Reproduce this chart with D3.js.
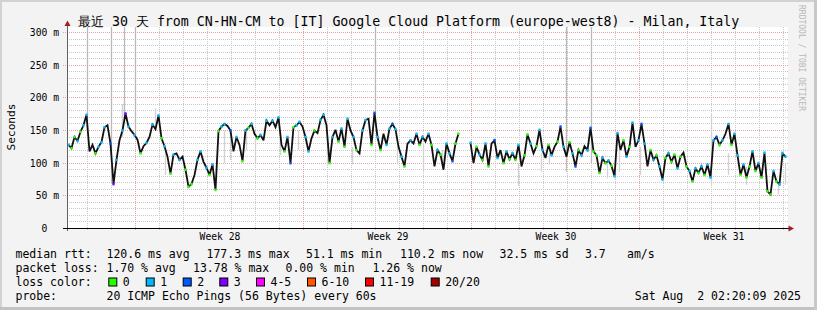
<!DOCTYPE html>
<html><head><meta charset="utf-8">
<script src="https://cdn.jsdelivr.net/npm/d3@7"></script>
<style>
html,body{margin:0;padding:0;background:#f3f3f3;}
svg{display:block;}
text{font-family:"DejaVu Sans Mono",monospace;fill:#000;white-space:pre;}
</style></head><body>
<svg id="c" width="817" height="310"></svg>
<script>
const title = "最近 30 天 from CN-HN-CM to [IT] Google Cloud Platform (europe-west8) - Milan, Italy";
const yTicks = [0, 50, 100, 150, 200, 250, 300];
const yLabels = ["0  ", "50 m", "100 m", "150 m", "200 m", "250 m", "300 m"];
const startTime = new Date(Date.UTC(2025, 6, 3, 3, 30));
const endTime = new Date(Date.UTC(2025, 7, 2, 3, 30));
const stepHours = 3;
// median rtt (ms), one value per 3 hours; null = no data
const medianMs = [
128,123,140,134,148,158,174,118,128,115,125,132,155,158,130,68,105,135,150,176,
156,149,143,136,115,126,131,140,159,152,173,138,126,110,84,113,115,105,110,90,
64,68,82,105,118,102,93,82,98,59,149,156,160,157,150,118,140,128,103,150,
154,160,145,138,143,135,165,158,165,155,170,128,118,140,100,155,158,163,156,140,
118,138,150,146,166,174,158,100,140,151,133,153,125,168,150,140,120,115,150,166,
168,128,177,140,120,145,128,153,160,152,125,110,95,130,135,130,145,128,140,133,
145,128,95,120,113,90,130,115,103,130,145,null,null,null,131,100,125,113,105,130,
95,130,135,108,120,100,118,106,115,105,128,95,112,144,130,115,126,151,120,108,
128,112,125,133,156,125,110,132,115,95,120,112,126,120,154,118,112,85,108,100,
104,96,80,146,120,135,110,125,162,125,135,160,130,95,120,105,112,95,75,108,
115,102,113,92,110,116,95,88,72,92,85,95,82,98,78,135,140,128,135,145,
160,128,145,112,82,98,78,95,118,88,100,78,116,57,52,88,72,68,115,110
];
// loss class per sample (-1 = plain median line)
const lossCode = [
1,0,0,1,0,1,1,-1,-1,0,1,1,1,-1,2,3,1,-1,1,3,
1,-1,1,-1,0,-1,1,-1,1,-1,1,0,1,-1,0,1,-1,1,-1,0,
0,0,-1,1,1,-1,1,0,1,0,0,1,1,-1,2,-1,1,-1,0,1,
0,1,-1,0,1,-1,1,-1,1,-1,1,-1,0,1,2,0,1,1,-1,1,
1,-1,0,-1,1,1,-1,0,1,-1,0,1,0,1,-1,1,0,-1,1,1,
-1,0,2,1,0,-1,1,1,2,1,-1,1,0,-1,1,-1,1,0,1,-1,
1,0,-1,1,0,-1,1,1,2,0,0,-1,-1,-1,1,-1,0,1,0,1,
0,-1,2,1,-1,0,1,0,1,0,1,-1,0,0,1,-1,0,1,1,-1,
0,1,-1,0,2,1,-1,0,1,2,0,1,-1,1,2,0,0,0,1,0,
1,0,1,1,-1,0,1,0,1,-1,1,2,1,-1,0,1,0,1,1,0,
1,0,0,1,0,-1,0,1,0,1,0,1,0,1,1,1,2,0,1,-1,
1,0,1,1,0,1,0,0,1,0,1,0,1,0,0,1,0,1,1,1
];
// smoke (spread of individual pings): hour offset, low ms, high ms
const smokeHour = [20.5,44.5,57.5,68.5,308.5,499.5,524,
  55,88,98,157,163,179,188,213,231,261,285,330,356,375,451,474,482,540,548,552,573,644,661,680,711,718];
const smokeLo = [150,70,170,140,175,87,100,
  140,150,82,100,105,120,100,112,120,98,98,98,88,95,65,87,98,77,75,87,82,67,82,67,52,67];
const smokeHi = [310,310,310,310,310,310,310,
  190,184,120,150,150,150,140,140,150,130,125,125,130,120,100,115,115,100,100,120,125,175,115,95,70,100];

const lossLabels = ["0", "1", "2", "3", "4-5", "6-10", "11-19", "20/20"];
const lossColors = ["#26ff00", "#00b8ff", "#0059ff", "#7e00ff", "#ff00ff", "#ff5500", "#ff0000", "#a10000"];

const legendRtt = [["median rtt:", 15.5], ["120.6 ms avg", 106.5], ["177.3 ms max", 206.5], ["51.1 ms min", 306], ["110.2 ms now", 400], ["32.5 ms sd", 499.5], ["3.7", 585], ["am/s", 627]];
const legendLoss = [["packet loss:", 15.5], ["1.70 % avg", 106.5], ["13.78 % max", 193], ["0.00 % min", 285.5], ["1.26 % now", 372.5]];
const probeText = "20 ICMP Echo Pings (56 Bytes) every 60s";
const dateText = "Sat Aug  2 02:20:09 2025";

const svg = d3.select("#c");
const W = 817, H = 310;
const X0 = 67, X1 = 787, YBOT = 228.5, YTOP = 27;

// frame
svg.append("rect").attr("width", W).attr("height", H).attr("fill", "#f3f3f3");
svg.append("rect").attr("x", 0).attr("y", 0).attr("width", W).attr("height", 2).attr("fill", "#d2d2d2");
svg.append("rect").attr("x", 0).attr("y", 0).attr("width", 2).attr("height", H).attr("fill", "#d2d2d2");
svg.append("rect").attr("x", 0).attr("y", H - 3).attr("width", W).attr("height", 3).attr("fill", "#c2c2c2");
svg.append("rect").attr("x", W - 3).attr("y", 0).attr("width", 3).attr("height", H).attr("fill", "#c8c8c8");

const x = d3.scaleUtc().domain([startTime, endTime]).range([X0, X1]);
const y = d3.scaleLinear().domain([0, 300]).range([YBOT, 32.5]);
const crisp = v => Math.floor(v) + 0.5;

// plot background
svg.append("rect").attr("x", X0).attr("y", YTOP).attr("width", 721).attr("height", YBOT - YTOP).attr("fill", "#ffffff");

const grid = svg.append("g").attr("shape-rendering", "crispEdges");
// minor horizontal
d3.range(10, 301, 10).filter(v => v % 50 !== 0).forEach(v => {
  grid.append("line").attr("x1", X0).attr("x2", 788).attr("y1", crisp(y(v))).attr("y2", crisp(y(v)))
    .attr("stroke", "#c9c9c9").attr("stroke-dasharray", "1,1");
});
// vertical daily / weekly
const days = d3.utcDay.range(d3.utcDay.ceil(startTime), endTime);
days.forEach(d => {
  const major = d.getUTCDay() === 0;
  grid.append("line").attr("x1", crisp(x(d))).attr("x2", crisp(x(d))).attr("y1", YTOP).attr("y2", 231)
    .attr("stroke", major ? "#eaa0a0" : "#c9c9c9").attr("stroke-dasharray", "1,1");
});
// major horizontal
yTicks.filter(v => v > 0).forEach(v => {
  grid.append("line").attr("x1", 63).attr("x2", 788).attr("y1", crisp(y(v))).attr("y2", crisp(y(v)))
    .attr("stroke", "#eaa0a0").attr("stroke-dasharray", "1,1");
});

// clip for data
svg.append("clipPath").attr("id", "pc").append("rect").attr("x", X0).attr("y", YTOP).attr("width", 721).attr("height", YBOT - YTOP);
const data = medianMs.map((v, i) => ({t: d3.utcHour.offset(startTime, i * stepHours), v, l: lossCode[i]}));
const plot = svg.append("g").attr("clip-path", "url(#pc)");

// smoke
smokeHour.forEach((h, i) => {
  const t = new Date(startTime.getTime() + h * 3600e3);
  plot.append("line").attr("x1", crisp(x(t))).attr("x2", crisp(x(t)))
    .attr("y1", y(smokeHi[i])).attr("y2", y(smokeLo[i]))
    .attr("stroke", i < 7 ? "#b9b9b9" : "#d2d2d2").attr("stroke-width", 1.3);
});

// median line
const line = d3.line().defined(d => d.v != null).x(d => x(d.t) + 1.5).y(d => y(d.v));
plot.append("path").datum(data).attr("d", line).attr("fill", "none").attr("stroke", "#111")
  .attr("stroke-width", 1.8).attr("stroke-linejoin", "miter").attr("stroke-miterlimit", 3);
// loss-coloured marks
plot.selectAll("rect.loss").data(data.filter(d => d.v != null && d.l >= 0)).join("rect")
  .attr("x", d => x(d.t) + 0.4).attr("y", d => y(d.v) - 1.3).attr("width", 2.2).attr("height", 2.6)
  .attr("fill", d => lossColors[d.l]);

// axes
const yAxis = d3.axisLeft(y).tickValues(yTicks).tickFormat((d, i) => yLabels[i]).tickSize(0).tickPadding(8);
const gy = svg.append("g").attr("transform", `translate(${X0},0)`).call(yAxis);
gy.select(".domain").remove();
gy.selectAll("text").attr("font-family", "DejaVu Sans Mono").attr("font-size", 9.7).attr("fill", "#000").attr("xml:space", "preserve");

const weekMid = d3.utcSunday.range(startTime, endTime).map(d => d3.utcHour.offset(d, 84)).filter(d => d < endTime);
const xAxis = d3.axisBottom(x).tickValues(weekMid).tickFormat(d3.utcFormat("Week %V")).tickSize(0).tickPadding(4.6);
const gx = svg.append("g").attr("transform", `translate(0,${YBOT})`).call(xAxis);
gx.select(".domain").remove();
gx.selectAll("text").attr("font-family", "DejaVu Sans Mono").attr("font-size", 9.7).attr("fill", "#000");

// axis lines + arrows
svg.append("line").attr("x1", 67.5).attr("x2", 67.5).attr("y1", 231).attr("y2", 25).attr("stroke", "#606060").attr("shape-rendering", "crispEdges");
svg.append("line").attr("x1", 63).attr("x2", 790).attr("y1", 228.5).attr("y2", 228.5).attr("stroke", "#000").attr("shape-rendering", "crispEdges");
svg.append("path").attr("d", "M64.5,26 L70.5,26 L67.5,20.5 Z").attr("fill", "#a02020");
svg.append("path").attr("d", "M788.5,225.5 L788.5,231.5 L794,228.5 Z").attr("fill", "#a02020");

// titles
svg.append("text").attr("x", 78).attr("y", 26.3).attr("font-size", 13.25)
  .attr("font-family", "'DejaVu Sans Mono','Noto Sans CJK SC',monospace").text(title);
svg.append("text").attr("transform", "translate(15.3,127) rotate(-90)").attr("text-anchor", "middle")
  .attr("font-size", 11.2).text("Seconds");
svg.append("text").attr("transform", "translate(799,5) rotate(90)").attr("font-size", 8)
  .style("fill", "#b8b8b8").text("RRDTOOL / TOBI OETIKER");

// legend
const lg = svg.append("g").attr("font-size", 11.5);
legendRtt.forEach(([t, px]) => lg.append("text").attr("x", px).attr("y", 258).text(t));
legendLoss.forEach(([t, px]) => lg.append("text").attr("x", px).attr("y", 272).text(t));
lg.append("text").attr("x", 15.5).attr("y", 286).text("loss color:");
const boxX = [108.3, 145.7, 182.7, 219.3, 256, 307, 365, 430.7];
lossLabels.forEach((lab, i) => {
  lg.append("rect").attr("x", boxX[i] + 0.5).attr("y", 278).attr("width", 8).attr("height", 8)
    .attr("fill", lossColors[i]).attr("stroke", "#000").attr("stroke-width", 1);
  lg.append("text").attr("x", boxX[i] + 14.5).attr("y", 286).text(lab);
});
lg.append("text").attr("x", 15.5).attr("y", 300).text("probe:");
lg.append("text").attr("x", 106.5).attr("y", 300).text(probeText);
lg.append("text").attr("x", 801).attr("y", 300).attr("text-anchor", "end").text(dateText);
</script>
</body></html>
